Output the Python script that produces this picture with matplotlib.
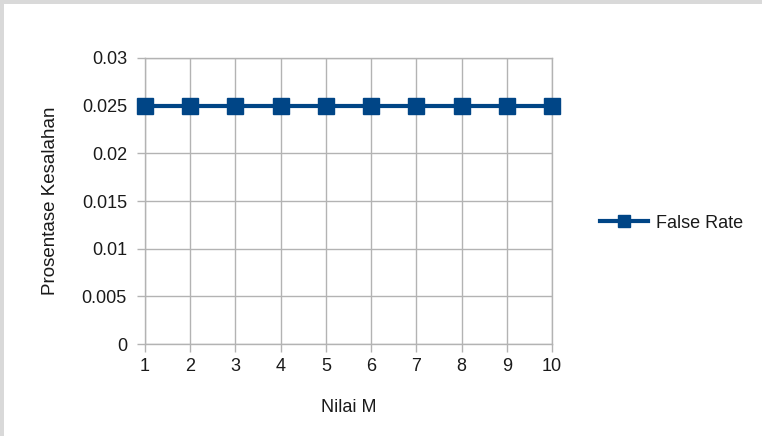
import matplotlib
matplotlib.use("Agg")
import matplotlib.pyplot as plt
from matplotlib.lines import Line2D
from matplotlib.patches import Rectangle

# Data
m_values = [1, 2, 3, 4, 5, 6, 7, 8, 9, 10]
false_rate = [0.025, 0.025, 0.025, 0.025, 0.025, 0.025, 0.025, 0.025, 0.025, 0.025]
y_ticks = [0, 0.005, 0.01, 0.015, 0.02, 0.025, 0.03]
y_tick_labels = ["0", "0.005", "0.01", "0.015", "0.02", "0.025", "0.03"]
series_name = "False Rate"

plt.rcParams["font.family"] = ["Liberation Sans", "DejaVu Sans"]

W, H = 762, 436
fig = plt.figure(figsize=(W / 100, H / 100), dpi=100)
fig.patch.set_facecolor("white")

# light gray frame strips on the left and top edges
fig.patches.append(Rectangle((0, 0), 4 / W, 1, transform=fig.transFigure,
                             facecolor="#d9d9d9", edgecolor="none", zorder=0))
fig.patches.append(Rectangle((0, 1 - 4 / H), 1, 4 / H, transform=fig.transFigure,
                             facecolor="#d9d9d9", edgecolor="none", zorder=0))

left, right = 145 / W, 552 / W
bottom, top = 1 - 344 / H, 1 - 58 / H
ax = fig.add_axes([left, bottom, right - left, top - bottom])

line_color = "#004586"
grid_color = "#b3b3b3"
text_color = "#1a1a1a"
fs = 13

ax.plot(m_values, false_rate, color=line_color, linewidth=3.0,
        marker="s", markersize=11.5, markerfacecolor=line_color,
        markeredgecolor=line_color, clip_on=False, zorder=3)

ax.set_xlim(1, 10)
ax.set_ylim(0, 0.03)
ax.set_xticks(m_values)
ax.set_xticklabels([str(v) for v in m_values])
ax.set_yticks(y_ticks)
ax.set_yticklabels(y_tick_labels)

ax.grid(True, color=grid_color, linewidth=1.0)
ax.set_axisbelow(True)
for s in ax.spines.values():
    s.set_color(grid_color)
    s.set_linewidth(1.0)

ax.tick_params(axis="both", direction="out", length=5.5, width=1.0,
               color=grid_color, labelsize=fs, labelcolor=text_color)
ax.tick_params(axis="y", pad=7.5)
ax.tick_params(axis="x", pad=4.5)

ax.set_xlabel("Nilai M", fontsize=fs, color=text_color, labelpad=17)
ax.set_ylabel("Prosentase Kesalahan", fontsize=fs + 0.5, color=text_color,
              labelpad=16)

handle = Line2D([], [], color=line_color, linewidth=3.0, marker="s",
                markersize=8, markerfacecolor=line_color, markeredgecolor=line_color)
fig.legend([handle], [series_name], loc="center left",
           bbox_to_anchor=(600 / W, 1 - 223 / H), frameon=False,
           fontsize=fs, handlelength=2.65, handletextpad=0.45,
           borderpad=0, borderaxespad=0, labelcolor=text_color)

fig.savefig("out.png", dpi=100)
